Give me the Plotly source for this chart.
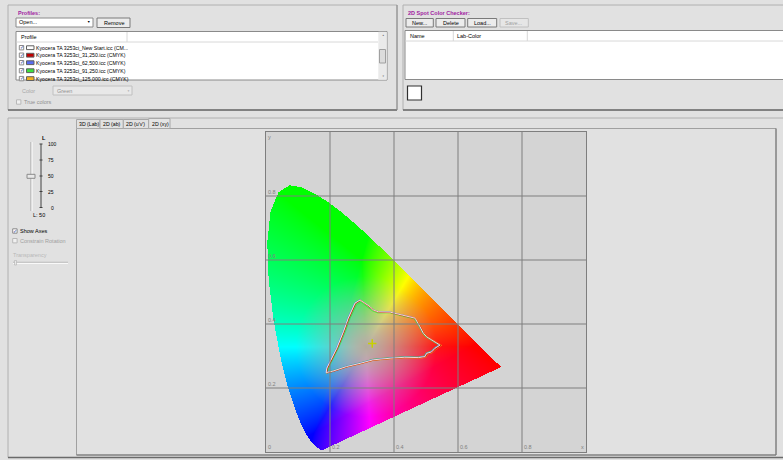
import numpy as np
import plotly.graph_objects as go

# ---------------- data ----------------
# CIE 1931 spectral locus (380..700 nm, 5 nm steps) as seen in the diagram
locus_x = [0.1741, 0.1740, 0.1738, 0.1736, 0.1733, 0.1730, 0.1726, 0.1721, 0.1714, 0.1703,
           0.1689, 0.1669, 0.1644, 0.1611, 0.1566, 0.1510, 0.1440, 0.1355, 0.1241, 0.1096,
           0.0913, 0.0687, 0.0454, 0.0235, 0.0082, 0.0039, 0.0139, 0.0389, 0.0743, 0.1142,
           0.1547, 0.1929, 0.2296, 0.2658, 0.3016, 0.3373, 0.3731, 0.4087, 0.4441, 0.4788,
           0.5125, 0.5448, 0.5752, 0.6029, 0.6270, 0.6482, 0.6658, 0.6801, 0.6915, 0.7006,
           0.7079, 0.7140, 0.7190, 0.7230, 0.7260, 0.7283, 0.7300, 0.7311, 0.7320, 0.7327,
           0.7334, 0.7340, 0.7344, 0.7346, 0.7347]
locus_y = [0.0050, 0.0050, 0.0049, 0.0049, 0.0048, 0.0048, 0.0048, 0.0048, 0.0051, 0.0058,
           0.0069, 0.0086, 0.0109, 0.0138, 0.0177, 0.0227, 0.0297, 0.0399, 0.0578, 0.0868,
           0.1327, 0.2007, 0.2950, 0.4127, 0.5384, 0.6548, 0.7502, 0.8120, 0.8338, 0.8262,
           0.8059, 0.7816, 0.7543, 0.7243, 0.6923, 0.6589, 0.6245, 0.5896, 0.5547, 0.5202,
           0.4866, 0.4544, 0.4242, 0.3965, 0.3725, 0.3514, 0.3340, 0.3197, 0.3083, 0.2993,
           0.2920, 0.2859, 0.2809, 0.2770, 0.2740, 0.2717, 0.2700, 0.2689, 0.2680, 0.2673,
           0.2666, 0.2660, 0.2656, 0.2654, 0.2653]

profile_names = ["Kyocera TA 3253ci_New Start.icc (CM...",
                 "Kyocera TA 3253ci_31,250.icc (CMYK)",
                 "Kyocera TA 3253ci_62,500.icc (CMYK)",
                 "Kyocera TA 3253ci_91,250.icc (CMYK)",
                 "Kyocera TA 3253ci_125,000.icc (CMYK)"]
profile_colors = ["#ffffff", "#c00000", "#5a6cf0", "#3ee03e", "#f0b020"]

gamut_new_x = [0.294, 0.325, 0.335, 0.351, 0.388, 0.424, 0.466, 0.481, 0.492, 0.502, 0.518, 0.533,
               0.544, 0.528, 0.518, 0.502, 0.497, 0.476, 0.434, 0.388, 0.335, 0.294, 0.252, 0.210,
               0.188, 0.190, 0.205, 0.221, 0.242, 0.257, 0.278, 0.294]
gamut_new_y = [0.475, 0.454, 0.444, 0.438, 0.437, 0.428, 0.418, 0.392, 0.371, 0.360, 0.350, 0.340,
               0.334, 0.324, 0.313, 0.308, 0.298, 0.295, 0.296, 0.293, 0.288, 0.277, 0.267, 0.253,
               0.248, 0.262, 0.293, 0.324, 0.376, 0.418, 0.465, 0.475]
gamut_31_x = [0.296, 0.326, 0.337, 0.352, 0.389, 0.425, 0.467, 0.483, 0.494, 0.504, 0.520, 0.535,
              0.547, 0.531, 0.520, 0.504, 0.499, 0.478, 0.435, 0.389, 0.336, 0.295, 0.253, 0.211,
              0.190, 0.192, 0.207, 0.223, 0.244, 0.259, 0.280, 0.296]
gamut_31_y = [0.474, 0.452, 0.443, 0.437, 0.436, 0.427, 0.417, 0.391, 0.370, 0.359, 0.349, 0.339,
              0.333, 0.323, 0.312, 0.307, 0.297, 0.294, 0.295, 0.292, 0.287, 0.276, 0.266, 0.252,
              0.247, 0.261, 0.292, 0.323, 0.375, 0.417, 0.464, 0.474]
gamut_62_x = [0.293, 0.324, 0.334, 0.350, 0.387, 0.423, 0.465, 0.480, 0.491, 0.501, 0.517, 0.531,
              0.541, 0.526, 0.516, 0.501, 0.496, 0.475, 0.433, 0.387, 0.334, 0.293, 0.251, 0.209,
              0.187, 0.189, 0.204, 0.220, 0.241, 0.256, 0.277, 0.293]
gamut_62_y = [0.476, 0.455, 0.445, 0.439, 0.438, 0.429, 0.419, 0.393, 0.372, 0.361, 0.351, 0.341,
              0.335, 0.325, 0.314, 0.309, 0.299, 0.296, 0.297, 0.294, 0.289, 0.278, 0.268, 0.254,
              0.249, 0.263, 0.294, 0.325, 0.377, 0.419, 0.466, 0.476]
gamut_91_x = [0.297, 0.322, 0.333, 0.349, 0.386, 0.422, 0.463, 0.479, 0.490, 0.500, 0.516, 0.530,
              0.540, 0.525, 0.515, 0.500, 0.495, 0.474, 0.433, 0.387, 0.335, 0.295, 0.254, 0.213,
              0.193, 0.196, 0.211, 0.227, 0.248, 0.262, 0.283, 0.297]
gamut_91_y = [0.468, 0.450, 0.441, 0.435, 0.435, 0.426, 0.416, 0.391, 0.370, 0.359, 0.349, 0.340,
              0.334, 0.325, 0.315, 0.310, 0.300, 0.297, 0.298, 0.295, 0.290, 0.279, 0.269, 0.256,
              0.251, 0.264, 0.295, 0.326, 0.376, 0.416, 0.460, 0.468]
gamut_125_x = [0.295, 0.326, 0.336, 0.352, 0.389, 0.426, 0.468, 0.483, 0.495, 0.505, 0.521, 0.537,
               0.549, 0.532, 0.521, 0.505, 0.500, 0.478, 0.435, 0.389, 0.335, 0.294, 0.252, 0.210,
               0.189, 0.191, 0.206, 0.222, 0.243, 0.258, 0.279, 0.295]
gamut_125_y = [0.474, 0.453, 0.443, 0.437, 0.436, 0.427, 0.417, 0.391, 0.370, 0.359, 0.349, 0.339,
               0.333, 0.322, 0.311, 0.306, 0.296, 0.293, 0.294, 0.291, 0.286, 0.275, 0.265, 0.252,
               0.246, 0.260, 0.292, 0.323, 0.375, 0.417, 0.464, 0.474]

white_point_x = [0.332]
white_point_y = [0.339]

x_tick_vals = [0, 0.2, 0.4, 0.6, 0.8]
x_tick_text = ["0", "0.2", "0.4", "0.6", "0.8"]
y_tick_vals = [0.2, 0.4, 0.6, 0.8]
y_tick_text = ["0.2", "0.4", "0.6", "0.8"]
grid_vals = [0.2, 0.4, 0.6, 0.8]

tab_labels = ["3D (Lab)", "2D (ab)", "2D (u'v')", "2D (xy)"]
l_scale_labels = ["100", "75", "50", "25", "0"]
spot_buttons = ["New...", "Delete", "Load...", "Save..."]

# ---------------- chromaticity fill image ----------------
res = 1.0 / 320
nx, ny = 243, 272
gx = (np.arange(nx) + 0.5) * res
gy = (np.arange(ny) + 0.5) * res
GX, GY = np.meshgrid(gx, gy)

vx = np.array(locus_x); vy = np.array(locus_y)
inside = np.zeros(GX.shape, dtype=bool)
j = len(vx) - 1
for i in range(len(vx)):
    xi, yi, xj, yj = vx[i], vy[i], vx[j], vy[j]
    cross = ((yi > GY) != (yj > GY)) & (GX < (xj - xi) * (GY - yi) / (yj - yi + 1e-12) + xi)
    inside ^= cross
    j = i

Xc = GX / GY
Zc = (1 - GX - GY) / GY
R = 3.2406 * Xc - 1.5372 - 0.4986 * Zc
G = -0.9689 * Xc + 1.8758 + 0.0415 * Zc
B = 0.0557 * Xc - 0.2040 + 1.0570 * Zc
lin = np.clip(np.stack([R, G, B], axis=-1), 0, None)
mx = lin.max(axis=-1, keepdims=True)
mn = lin.min(axis=-1, keepdims=True) * 0.6
span = mx - mn
span[span < 1e-9] = 1e-9
hue = np.clip((lin - mn) / span, 0, 1) ** (1 / 1.3)
dist = np.hypot(GX - 0.3127, GY - 0.3290)
t = np.clip(dist / 0.22, 0, 1)[..., None]
grey = np.array([0.70, 0.67, 0.62])
col = grey * (1 - t) + hue * t
rgba = np.zeros(GX.shape + (4,))
rgba[..., :3] = np.round(np.clip(col, 0, 1) * 255)
rgba[..., 3] = inside.astype(float)

fig = go.Figure()
fig.add_trace(go.Image(z=rgba.tolist(), colormodel="rgba", x0=gx[0], dx=res, y0=gy[0], dy=res,
                       hoverinfo="skip"))

gamuts = [(gamut_91_x, gamut_91_y, 3), (gamut_62_x, gamut_62_y, 2), (gamut_125_x, gamut_125_y, 4),
          (gamut_31_x, gamut_31_y, 1), (gamut_new_x, gamut_new_y, 0)]
for gxv, gyv, k in gamuts:
    fig.add_trace(go.Scatter(x=gxv, y=gyv, mode="lines", name=profile_names[k],
                             line=dict(color=profile_colors[k], width=1), opacity=0.8,
                             hoverinfo="skip"))
fig.add_trace(go.Scatter(x=white_point_x, y=white_point_y, mode="markers",
                         marker=dict(symbol="cross-thin", size=6, line=dict(color="#c8d000", width=1.5)),
                         hoverinfo="skip"))

# ---------------- layout helpers (pixel -> paper) ----------------
L0, T0, S = 266.0, 452.0, 320.0
def px(x): return (x - L0) / S
def py(y): return (T0 - y) / S

shapes = []
annots = []
FONT = "Liberation Sans"

def rect(x0, y0, x1, y1, fill=None, line="#a0a0a0", lw=1, layer="above"):
    shapes.append(dict(type="rect", xref="paper", yref="paper", x0=px(x0), x1=px(x1),
                       y0=py(y1), y1=py(y0), fillcolor=fill if fill else "rgba(0,0,0,0)",
                       line=dict(color=line, width=lw) if lw else dict(width=0), layer=layer))

def hline(x0, x1, y, color="#a0a0a0", lw=1):
    shapes.append(dict(type="line", xref="paper", yref="paper", x0=px(x0), x1=px(x1),
                       y0=py(y), y1=py(y), line=dict(color=color, width=lw)))

def vline(x, y0, y1, color="#a0a0a0", lw=1):
    shapes.append(dict(type="line", xref="paper", yref="paper", x0=px(x), x1=px(x),
                       y0=py(y0), y1=py(y1), line=dict(color=color, width=lw)))

def text(x, y, s, color="#000000", size=5.5, anchor="left", bold=False):
    annots.append(dict(text=("<b>%s</b>" % s) if bold else s, xref="paper", yref="paper",
                       x=px(x), y=py(y), xanchor=anchor, yanchor="middle", showarrow=False,
                       font=dict(family=FONT, size=size, color=color), borderpad=0))

def checkbox(x, y, checked=False, enabled=True):
    rect(x, y - 2.2, x + 4.4, y + 2.2, fill="#ffffff" if enabled else "#f0f0f0",
         line="#8a8a8a" if enabled else "#b8b8b8")
    if checked:
        text(x + 2.2, y, "✓", color="#2040a0", size=4.5, anchor="center")

# ---- Profiles group ----
rect(8, 5, 397, 110, line="#b0b0b0")
hline(8, 397, 110, color="#6a6a6a", lw=1.5)
vline(397, 5, 110, color="#8a8a8a", lw=1)
text(16.5, 13.5, "Profiles:", color="#a01aa0", bold=True)
rect(16, 18, 93, 27, fill="#ffffff", line="#8a8a8a")
text(18, 22.5, "Open...")
text(88.5, 22.5, "▼", size=3.5, anchor="center")
rect(97, 18, 130, 27.5, fill="#ececec", line="#7a7a7a")
text(113.5, 22.8, "Remove", anchor="center")
rect(16, 31.5, 387, 80, fill="#ffffff", line="#8a8a8a")
hline(16.5, 378, 42, color="#d8d8d8")
vline(127, 32, 42, color="#d8d8d8")
text(20, 37, "Profile")
rect(378.5, 32, 386.5, 79.5, fill="#eaeaea", line="#eaeaea", lw=0.5)
rect(379.5, 49.5, 385.5, 63, fill="#dcdcdc", line="#a0a0a0")
text(382.5, 35.5, "▲", size=2.5, anchor="center", color="#707070")
text(382.5, 76.5, "▼", size=2.5, anchor="center", color="#707070")
row_y = [47.7, 55.2, 62.7, 70.7, 78.6]
for k, name in enumerate(profile_names):
    yy = row_y[k]
    checkbox(19.3, yy, checked=True)
    rect(26.5, yy - 1.9, 34, yy + 1.9, fill=profile_colors[k], line="#606060")
    text(34.8, yy, name, size=5.2)
text(20.5, 90.5, "Color", color="#a8a8a8")
rect(53, 86, 132, 95, fill="#e8e8e8", line="#c0c0c0")
text(56, 90.5, "Green", color="#909090")
text(128, 90.5, "▼", size=3, anchor="center", color="#b0b0b0")
checkbox(16.5, 102, enabled=False)
text(22.5, 102, "True colors", color="#909090")

# ---- 2D Spot Color Checker group ----
rect(403, 5, 785, 110, line="#b0b0b0")
hline(403, 783, 110, color="#6a6a6a", lw=1.5)
text(406.5, 13.5, "2D Spot Color Checker:", color="#a01aa0", bold=True)
btn_x = [(406, 433.3), (436, 465), (467.7, 496.7), (500, 528.3)]
for (bx0, bx1), lab in zip(btn_x, spot_buttons):
    enabled = lab != "Save..."
    rect(bx0, 18.5, bx1, 27, fill="#ececec" if enabled else "#e6e6e6",
         line="#7a7a7a" if enabled else "#c0c0c0")
    text((bx0 + bx1) / 2, 22.8, lab, anchor="center", color="#000000" if enabled else "#a0a0a0")
rect(405, 30.5, 785, 79.5, fill="#ffffff", line="#8a8a8a")
hline(405.5, 783, 41, color="#d8d8d8")
vline(453.3, 31, 41, color="#d8d8d8")
vline(527.3, 31, 41, color="#d8d8d8")
text(409, 36, "Name")
text(456, 36, "Lab-Color")
rect(407.5, 86, 421.5, 100, fill="#ffffff", line="#303030", lw=1.2)

# ---- lower frame ----
rect(8, 118, 785, 457.5, line="#b0b0b0")
hline(8, 783, 457.5, color="#6a6a6a", lw=1.5)
rect(76.5, 128.5, 776, 455, line="#a0a0a0")
vline(776, 128.5, 455, color="#707070", lw=1)
hline(76.5, 776, 455, color="#707070", lw=1)
tab_x = [(76.5, 100), (100, 123.3), (123.3, 148.7), (148.7, 170)]
for k, ((tx0, tx1), lab) in enumerate(zip(tab_x, tab_labels)):
    sel = (k == 3)
    rect(tx0, 118.5 if sel else 119.5, tx1, 128.5, fill="#e4e4e4" if sel else "#e1e1e1",
         line="#a8a8a8")
    text(tx0 + 1.8, 124, lab, size=5.2)

# L slider
text(40.5, 138, "L", bold=True)
vline(31, 142, 211, color="#a0a0a0", lw=1)
vline(32, 142, 211, color="#ffffff", lw=1)
vline(41, 144, 207.5, color="#404040", lw=1)
scale_y = [144, 160, 176, 191.5, 207.5]
for lab, yy in zip(l_scale_labels, scale_y):
    hline(39.5, 42.5, yy, color="#404040", lw=1)
    text(46.5 if lab != "0" else 49.5, yy, lab, size=5)
rect(27, 174.3, 35, 178.3, fill="#e8e8e8", line="#8a8a8a")
text(32, 215, "L: 50")
checkbox(12.7, 231, checked=True)
text(19, 231, "Show Axes")
checkbox(12.7, 240.7, enabled=False)
text(19, 240.7, "Constrain Rotation", color="#a0a0a0")
text(12, 255, "Transparency", color="#b8b8b8")
hline(13, 68, 262.3, color="#b0b0b0", lw=1)
hline(13, 68, 263.3, color="#ffffff", lw=1)
rect(14.5, 260.5, 16.5, 265, fill="#e8e8e8", line="#b0b0b0", lw=0.6)

# ---- plot grid + inside tick labels ----
for g in grid_vals:
    shapes.append(dict(type="line", xref="x", yref="y", x0=g, x1=g, y0=0, y1=1,
                       line=dict(color="#7e7e7e", width=1), layer="above"))
    shapes.append(dict(type="line", xref="x", yref="y", x0=0, x1=1, y0=g, y1=g,
                       line=dict(color="#7e7e7e", width=1), layer="above"))
for v, t_ in zip(x_tick_vals, x_tick_text):
    annots.append(dict(text=t_, xref="x", yref="y", x=v + 0.004, y=0.002, xanchor="left",
                       yanchor="bottom", showarrow=False, borderpad=0,
                       font=dict(family=FONT, size=5.5, color="#808080")))
for v, t_ in zip(y_tick_vals, y_tick_text):
    annots.append(dict(text=t_, xref="x", yref="y", x=0.004, y=v + 0.001, xanchor="left",
                       yanchor="bottom", showarrow=False, borderpad=0,
                       font=dict(family=FONT, size=5.5, color="#808080")))
annots.append(dict(text="x", xref="x", yref="y", x=0.997, y=0.002, xanchor="right", yanchor="bottom",
                   showarrow=False, borderpad=0, font=dict(family=FONT, size=5.5, color="#808080")))
annots.append(dict(text="y", xref="x", yref="y", x=0.004, y=0.997, xanchor="left", yanchor="top",
                   showarrow=False, borderpad=0, font=dict(family=FONT, size=5.5, color="#808080")))

fig.update_layout(
    width=783, height=460,
    margin=dict(l=266, r=197, t=132, b=8, pad=0),
    paper_bgcolor="#e1e1e1", plot_bgcolor="#d4d4d4",
    showlegend=False,
    xaxis=dict(range=[0, 1], showgrid=False, zeroline=False, showticklabels=False, ticks="",
               showline=True, linecolor="#7e7e7e", linewidth=1, mirror=True, fixedrange=True,
               constrain="range"),
    yaxis=dict(range=[0, 1], showgrid=False, zeroline=False, showticklabels=False, ticks="",
               showline=True, linecolor="#7e7e7e", linewidth=1, mirror=True, fixedrange=True,
               autorange=False, constrain="range"),
    shapes=shapes, annotations=annots,
)

fig.write_html("out.html", config={"displayModeBar": False},
               post_script="document.body.style.margin='0';document.body.style.overflow='hidden';")
